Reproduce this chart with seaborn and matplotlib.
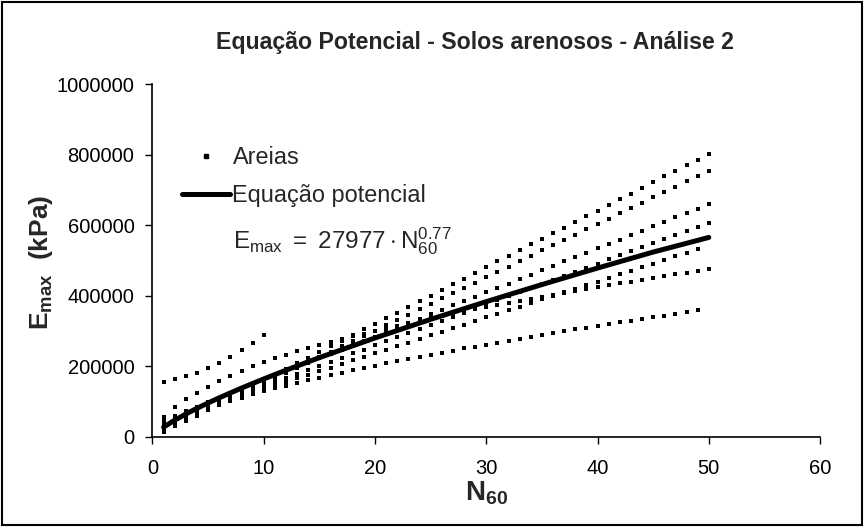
import pandas as pd
import matplotlib
matplotlib.use("Agg")
import matplotlib.pyplot as plt
import seaborn as sns
from matplotlib.lines import Line2D
from matplotlib.patches import Rectangle
from matplotlib.ticker import StrMethodFormatter

sns.set_style("ticks")
plt.rcParams["font.family"] = ["Liberation Sans", "DejaVu Sans"]
plt.rcParams["mathtext.fontset"] = "custom"
plt.rcParams["mathtext.rm"] = "Liberation Sans"
plt.rcParams["mathtext.it"] = "Liberation Sans:italic"
plt.rcParams["mathtext.bf"] = "Liberation Sans:bold"

# --- data (N60, Emax in kPa) ---
N_1_10 = list(range(1, 11))
N_1_49 = list(range(1, 50))
N_1_50 = list(range(1, 51))

E_SHORT = [156000, 165000, 173000, 182000, 195000, 210000, 228000, 246000, 268000, 290000]

E_B = [17000, 33000, 49000, 65000, 81000, 97000, 113000, 129000, 145000, 161000,
       177000, 193000, 209000, 225000, 241000, 257000, 273000, 289000, 305000, 321000,
       337000, 353000, 369000, 385000, 401000, 417000, 433000, 449000, 465000, 482000,
       498000, 514000, 530000, 546000, 562000, 578000, 594000, 610000, 626000, 642000,
       658000, 674000, 690000, 706000, 722000, 739000, 755000, 771000, 787000, 803000]

E_C = [15000, 30000, 45000, 60000, 76000, 91000, 106000, 121000, 136000, 151000,
       166000, 181000, 196000, 211000, 227000, 242000, 257000, 272000, 287000, 302000,
       317000, 332000, 347000, 362000, 378000, 393000, 408000, 423000, 438000, 453000,
       468000, 483000, 498000, 513000, 529000, 544000, 559000, 574000, 589000, 604000,
       619000, 634000, 649000, 664000, 680000, 695000, 710000, 725000, 740000, 755000]

E_D = [48000, 60000, 73000, 85000, 98000, 110000, 123000, 135000, 148000, 160000,
       173000, 185000, 198000, 210000, 223000, 235000, 248000, 260000, 273000, 285000,
       298000, 310000, 323000, 335000, 348000, 360000, 373000, 385000, 398000, 410000,
       423000, 435000, 448000, 460000, 473000, 485000, 498000, 510000, 523000, 535000,
       548000, 560000, 573000, 585000, 598000, 610000, 623000, 635000, 648000, 660000]

E_E = [40000, 51000, 63000, 74000, 86000, 98000, 109000, 121000, 132000, 144000,
       156000, 167000, 179000, 190000, 202000, 214000, 225000, 237000, 248000, 260000,
       272000, 283000, 295000, 306000, 318000, 330000, 341000, 353000, 364000, 376000,
       388000, 399000, 411000, 422000, 434000, 446000, 457000, 469000, 480000, 492000,
       504000, 515000, 527000, 538000, 550000, 562000, 573000, 585000, 596000, 608000]

E_F = [43000, 53000, 64000, 74000, 84000, 94000, 104000, 115000, 125000, 135000,
       145000, 155000, 166000, 176000, 186000, 196000, 206000, 217000, 227000, 237000,
       247000, 257000, 268000, 278000, 288000, 298000, 308000, 319000, 329000, 339000,
       349000, 359000, 370000, 380000, 390000, 400000, 410000, 421000, 431000, 441000,
       451000, 461000, 472000, 482000, 492000, 502000, 512000, 523000, 533000]

E_G = [58000, 86000, 107000, 126000, 143000, 160000, 174000, 188000, 200000, 212000,
       223000, 233000, 243000, 252000, 261000, 269000, 277000, 286000, 293000, 301000,
       308000, 316000, 323000, 330000, 337000, 343000, 350000, 356000, 362000, 369000,
       375000, 381000, 387000, 392000, 398000, 404000, 409000, 415000, 420000, 426000,
       431000, 436000, 441000, 446000, 451000, 456000, 461000, 466000, 471000, 476000]

E_H = [30000, 46000, 60000, 72000, 83000, 94000, 103000, 112000, 121000, 130000,
       138000, 146000, 153000, 161000, 168000, 175000, 182000, 189000, 196000, 202000,
       209000, 215000, 221000, 227000, 233000, 239000, 245000, 251000, 256000, 262000,
       268000, 273000, 278000, 284000, 289000, 294000, 300000, 305000, 310000, 315000,
       320000, 325000, 330000, 335000, 340000, 344000, 349000, 354000, 359000]

# fitted power curve
N_CURVE = [1, 2, 3, 4, 5, 6, 8, 10, 12, 15, 20, 25, 30, 35, 40, 45, 50]
E_CURVE = [28000, 47700, 65200, 81400, 96600, 111200, 138700, 164700, 189500,
           225100, 280900, 333600, 383900, 432300, 479100, 524500, 566000]

SERIES = [(N_1_10, E_SHORT), (N_1_50, E_B), (N_1_50, E_C), (N_1_50, E_D),
          (N_1_50, E_E), (N_1_49, E_F), (N_1_50, E_G), (N_1_49, E_H)]

areias = pd.concat([pd.DataFrame({"N60": n, "Emax": e}) for n, e in SERIES],
                   ignore_index=True)
curve = pd.DataFrame({"N60": N_CURVE, "Emax": E_CURVE})

fig = plt.figure(figsize=(8.65, 5.27), dpi=100)
ax = fig.add_axes([0.1763, 0.1708, 0.7717, 0.669])

sns.scatterplot(data=areias, x="N60", y="Emax", ax=ax, marker="s", s=10,
                color="black", linewidth=0, legend=False)
sns.lineplot(data=curve, x="N60", y="Emax", ax=ax, color="black",
             linewidth=3.6, legend=False)

ax.set_xlim(0, 60)
ax.set_ylim(0, 1000000)
ax.set_xticks(range(0, 61, 10))
ax.set_yticks(range(0, 1000001, 200000))
ax.yaxis.set_major_formatter(StrMethodFormatter("{x:.0f}"))
ax.tick_params(direction="out", length=5, width=1, labelsize=14.5,
               colors="black")
ax.tick_params(axis="x", pad=11)
ax.tick_params(axis="y", pad=8)
sns.despine(ax=ax)
for sp in ("left", "bottom"):
    ax.spines[sp].set_linewidth(1.2)
    ax.spines[sp].set_color("black")

ax.set_xlabel(r"$\mathbf{N}_{\mathbf{60}}$", fontsize=20, labelpad=1)
ax.set_ylabel(r"$\mathbf{E}_{\mathbf{max}}$  (kPa)", fontsize=19,
              fontweight="bold")
ax.yaxis.set_label_coords(-0.146, 0.495)

fig.text(475 / 865, 1 - 42 / 527,
         "Equação Potencial - Solos arenosos - Análise 2",
         ha="center", va="center", fontsize=16.7, fontweight="bold")

handles = [Line2D([], [], marker="s", linestyle="", color="black", markersize=2.8),
           Line2D([], [], color="black", linewidth=3.6)]
fig.legend(handles, ["Areias", "Equação potencial"], loc="upper left",
           bbox_to_anchor=(182 / 865, 1 - 146 / 527), frameon=False,
           fontsize=16.9, handlelength=2.05, handletextpad=0.1,
           labelspacing=0.65, borderpad=0, borderaxespad=0)

fig.text(233 / 865, 1 - 248 / 527,
         r"$\mathrm{E_{max}\ =\ 27977\cdot N_{60}^{0.77}}$",
         ha="left", va="baseline", fontsize=17.5)

fig.patches.append(Rectangle((0.002, 0.003), 0.995, 0.993, transform=fig.transFigure,
                             fill=False, edgecolor="black", linewidth=1.5))

fig.savefig("out.png", dpi=100)
plt.close(fig)
